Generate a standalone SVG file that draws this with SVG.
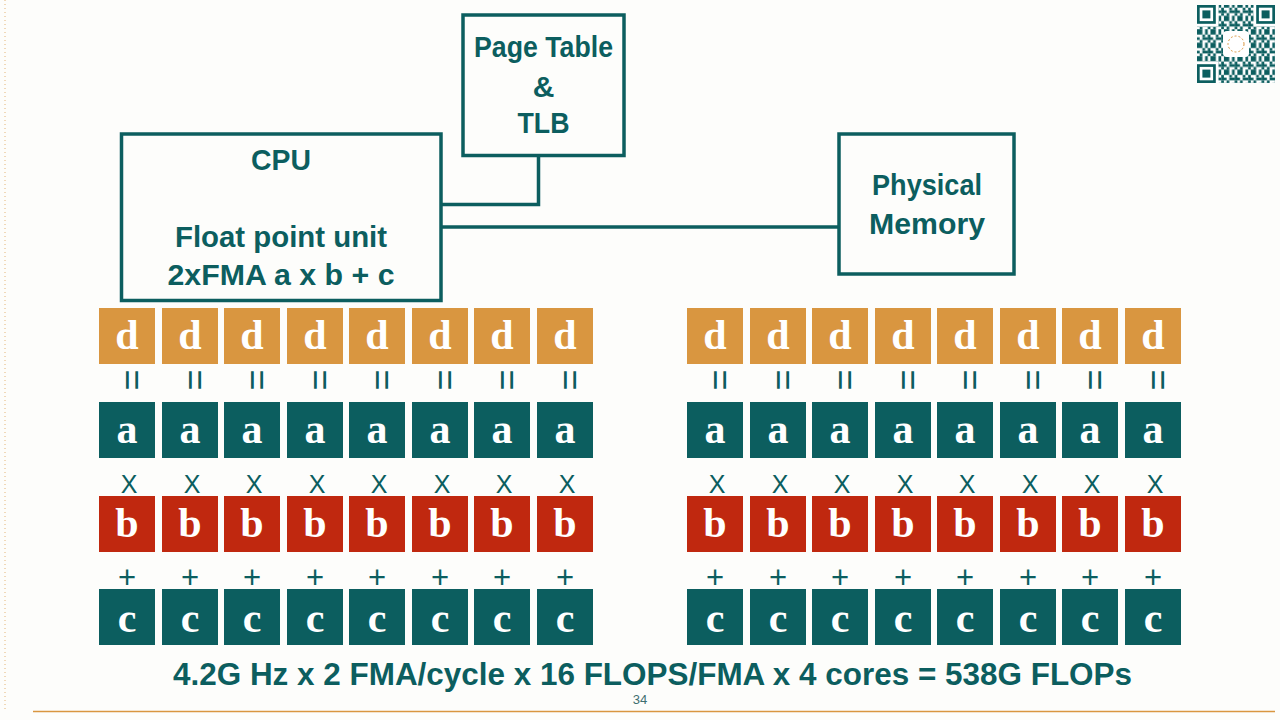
<svg xmlns="http://www.w3.org/2000/svg" width="1280" height="720" viewBox="0 0 1280 720">
<style>
.box{fill:none;stroke:#0c5e5f;stroke-width:3.5}
.lbl{font-family:"Liberation Sans",Arial,sans-serif;font-weight:bold;font-size:30px;fill:#0c5e5f;text-anchor:middle}
.conn{fill:none;stroke:#0c5e5f;stroke-width:3.5}
.cd{fill:#d99640}.ca{fill:#0c5e5f}.cb{fill:#c0280f}.cc{fill:#0c5e5f}
.t{font-family:"Liberation Serif","Times New Roman",serif;font-weight:bold;font-size:42px;fill:#ffffff;text-anchor:middle}
.eq{font-family:"Liberation Sans",Arial,sans-serif;font-size:36px;fill:#0c5e5f;text-anchor:middle}
.op{font-family:"Liberation Sans",Arial,sans-serif;font-size:25px;fill:#0c5e5f;text-anchor:middle}
.pl{font-family:"Liberation Sans",Arial,sans-serif;font-size:31px;fill:#0c5e5f;text-anchor:middle}
.q{fill:#0c5e5f}
</style>
<defs>
<pattern id="qrp" patternUnits="userSpaceOnUse" x="1197" y="5" width="13.45" height="13.45">
<rect x="0" y="0" width="5.38" height="2.69" class="q"/>
<rect x="8.07" y="0" width="2.69" height="2.69" class="q"/>
<rect x="5.38" y="2.69" width="2.69" height="2.69" class="q"/>
<rect x="10.76" y="2.69" width="2.69" height="5.38" class="q"/>
<rect x="0" y="5.38" width="2.69" height="2.69" class="q"/>
<rect x="5.38" y="5.38" width="5.38" height="2.69" class="q"/>
<rect x="2.69" y="8.07" width="2.69" height="2.69" class="q"/>
<rect x="0" y="10.76" width="5.38" height="2.69" class="q"/>
<rect x="8.07" y="10.76" width="2.69" height="2.69" class="q"/>
<rect x="10.76" y="8.07" width="2.69" height="2.69" class="q"/>
</pattern>
</defs>
<rect width="1280" height="720" fill="#fdfdfb"/>
<line x1="33" y1="711.5" x2="1275" y2="711.5" stroke="#d99640" stroke-width="1.5"/>
<line x1="5" y1="0" x2="5" y2="711" stroke="#d99640" stroke-width="1" stroke-dasharray="1 3" opacity="0.7"/>

<g id="qr">
<rect x="1197" y="5" width="78" height="78" fill="#ffffff"/>
<rect x="1197" y="5" width="78" height="78" fill="url(#qrp)"/>
<rect x="1197" y="5" width="21.5" height="21.5" fill="#ffffff"/>
<rect x="1197" y="5" width="18.8" height="18.8" class="q"/>
<rect x="1199.7" y="7.7" width="13.4" height="13.4" fill="#ffffff"/>
<rect x="1202.4" y="10.4" width="8" height="8" class="q"/>
<rect x="1253.5" y="5" width="21.5" height="21.5" fill="#ffffff"/>
<rect x="1256.2" y="5" width="18.8" height="18.8" class="q"/>
<rect x="1258.9" y="7.7" width="13.4" height="13.4" fill="#ffffff"/>
<rect x="1261.6" y="10.4" width="8" height="8" class="q"/>
<rect x="1197" y="61.5" width="21.5" height="21.5" fill="#ffffff"/>
<rect x="1197" y="64.2" width="18.8" height="18.8" class="q"/>
<rect x="1199.7" y="66.9" width="13.4" height="13.4" fill="#ffffff"/>
<rect x="1202.4" y="69.6" width="8" height="8" class="q"/>
<rect x="1223" y="31" width="26" height="26" rx="4" fill="#ffffff"/>
<circle cx="1236" cy="44" r="8" fill="none" stroke="#d99640" stroke-width="1" stroke-dasharray="2 2"/>
</g>

<g id="connectors">
<path class="conn" d="M441 204.5 H538.5 V155.5"/>
<path class="conn" d="M441 227 H839"/>
</g>

<g id="cpu">
<rect class="box" x="121.5" y="134" width="319.5" height="166.5"/>
<text class="lbl" x="281" y="170" textLength="60" lengthAdjust="spacingAndGlyphs">CPU</text>
<text class="lbl" x="281" y="247" textLength="212" lengthAdjust="spacingAndGlyphs">Float point unit</text>
<text class="lbl" x="281" y="285" textLength="227" lengthAdjust="spacingAndGlyphs">2xFMA a x b + c</text>
</g>
<g id="pagetable">
<rect class="box" x="463" y="15" width="161" height="140.5"/>
<text class="lbl" x="543.5" y="57" textLength="139" lengthAdjust="spacingAndGlyphs">Page Table</text>
<text class="lbl" x="543.5" y="97">&amp;</text>
<text class="lbl" x="543.5" y="133" textLength="52" lengthAdjust="spacingAndGlyphs">TLB</text>
</g>
<g id="physmem">
<rect class="box" x="839" y="134" width="175" height="140"/>
<text class="lbl" x="927" y="195" textLength="110" lengthAdjust="spacingAndGlyphs">Physical</text>
<text class="lbl" x="927" y="234" textLength="116" lengthAdjust="spacingAndGlyphs">Memory</text>
</g>

<g id="L1" transform="translate(99 0)">
<g id="L1d"><rect class="cd" x="0" y="308" width="56" height="56"/><text class="t" x="28" y="349">d</text></g>
<text class="eq" transform="translate(21 380) rotate(90)">=</text>
<g id="L1a"><rect class="ca" x="0" y="402" width="56" height="56"/><text class="t" x="28" y="443">a</text></g>
<text class="op" x="30" y="493">X</text>
<g id="L1b"><rect class="cb" x="0" y="496" width="56" height="56"/><text class="t" x="28" y="537">b</text></g>
<text class="pl" x="28" y="588">+</text>
<g id="L1c"><rect class="cc" x="0" y="589" width="56" height="56"/><text class="t" x="28" y="632">c</text></g>
</g>
<g id="L2" transform="translate(162 0)">
<g id="L2d"><rect class="cd" x="0" y="308" width="56" height="56"/><text class="t" x="28" y="349">d</text></g>
<text class="eq" transform="translate(21 380) rotate(90)">=</text>
<g id="L2a"><rect class="ca" x="0" y="402" width="56" height="56"/><text class="t" x="28" y="443">a</text></g>
<text class="op" x="30" y="493">X</text>
<g id="L2b"><rect class="cb" x="0" y="496" width="56" height="56"/><text class="t" x="28" y="537">b</text></g>
<text class="pl" x="28" y="588">+</text>
<g id="L2c"><rect class="cc" x="0" y="589" width="56" height="56"/><text class="t" x="28" y="632">c</text></g>
</g>
<g id="L3" transform="translate(224 0)">
<g id="L3d"><rect class="cd" x="0" y="308" width="56" height="56"/><text class="t" x="28" y="349">d</text></g>
<text class="eq" transform="translate(21 380) rotate(90)">=</text>
<g id="L3a"><rect class="ca" x="0" y="402" width="56" height="56"/><text class="t" x="28" y="443">a</text></g>
<text class="op" x="30" y="493">X</text>
<g id="L3b"><rect class="cb" x="0" y="496" width="56" height="56"/><text class="t" x="28" y="537">b</text></g>
<text class="pl" x="28" y="588">+</text>
<g id="L3c"><rect class="cc" x="0" y="589" width="56" height="56"/><text class="t" x="28" y="632">c</text></g>
</g>
<g id="L4" transform="translate(287 0)">
<g id="L4d"><rect class="cd" x="0" y="308" width="56" height="56"/><text class="t" x="28" y="349">d</text></g>
<text class="eq" transform="translate(21 380) rotate(90)">=</text>
<g id="L4a"><rect class="ca" x="0" y="402" width="56" height="56"/><text class="t" x="28" y="443">a</text></g>
<text class="op" x="30" y="493">X</text>
<g id="L4b"><rect class="cb" x="0" y="496" width="56" height="56"/><text class="t" x="28" y="537">b</text></g>
<text class="pl" x="28" y="588">+</text>
<g id="L4c"><rect class="cc" x="0" y="589" width="56" height="56"/><text class="t" x="28" y="632">c</text></g>
</g>
<g id="L5" transform="translate(349 0)">
<g id="L5d"><rect class="cd" x="0" y="308" width="56" height="56"/><text class="t" x="28" y="349">d</text></g>
<text class="eq" transform="translate(21 380) rotate(90)">=</text>
<g id="L5a"><rect class="ca" x="0" y="402" width="56" height="56"/><text class="t" x="28" y="443">a</text></g>
<text class="op" x="30" y="493">X</text>
<g id="L5b"><rect class="cb" x="0" y="496" width="56" height="56"/><text class="t" x="28" y="537">b</text></g>
<text class="pl" x="28" y="588">+</text>
<g id="L5c"><rect class="cc" x="0" y="589" width="56" height="56"/><text class="t" x="28" y="632">c</text></g>
</g>
<g id="L6" transform="translate(412 0)">
<g id="L6d"><rect class="cd" x="0" y="308" width="56" height="56"/><text class="t" x="28" y="349">d</text></g>
<text class="eq" transform="translate(21 380) rotate(90)">=</text>
<g id="L6a"><rect class="ca" x="0" y="402" width="56" height="56"/><text class="t" x="28" y="443">a</text></g>
<text class="op" x="30" y="493">X</text>
<g id="L6b"><rect class="cb" x="0" y="496" width="56" height="56"/><text class="t" x="28" y="537">b</text></g>
<text class="pl" x="28" y="588">+</text>
<g id="L6c"><rect class="cc" x="0" y="589" width="56" height="56"/><text class="t" x="28" y="632">c</text></g>
</g>
<g id="L7" transform="translate(474 0)">
<g id="L7d"><rect class="cd" x="0" y="308" width="56" height="56"/><text class="t" x="28" y="349">d</text></g>
<text class="eq" transform="translate(21 380) rotate(90)">=</text>
<g id="L7a"><rect class="ca" x="0" y="402" width="56" height="56"/><text class="t" x="28" y="443">a</text></g>
<text class="op" x="30" y="493">X</text>
<g id="L7b"><rect class="cb" x="0" y="496" width="56" height="56"/><text class="t" x="28" y="537">b</text></g>
<text class="pl" x="28" y="588">+</text>
<g id="L7c"><rect class="cc" x="0" y="589" width="56" height="56"/><text class="t" x="28" y="632">c</text></g>
</g>
<g id="L8" transform="translate(537 0)">
<g id="L8d"><rect class="cd" x="0" y="308" width="56" height="56"/><text class="t" x="28" y="349">d</text></g>
<text class="eq" transform="translate(21 380) rotate(90)">=</text>
<g id="L8a"><rect class="ca" x="0" y="402" width="56" height="56"/><text class="t" x="28" y="443">a</text></g>
<text class="op" x="30" y="493">X</text>
<g id="L8b"><rect class="cb" x="0" y="496" width="56" height="56"/><text class="t" x="28" y="537">b</text></g>
<text class="pl" x="28" y="588">+</text>
<g id="L8c"><rect class="cc" x="0" y="589" width="56" height="56"/><text class="t" x="28" y="632">c</text></g>
</g>

<g id="R1" transform="translate(687 0)">
<g id="R1d"><rect class="cd" x="0" y="308" width="56" height="56"/><text class="t" x="28" y="349">d</text></g>
<text class="eq" transform="translate(21 380) rotate(90)">=</text>
<g id="R1a"><rect class="ca" x="0" y="402" width="56" height="56"/><text class="t" x="28" y="443">a</text></g>
<text class="op" x="30" y="493">X</text>
<g id="R1b"><rect class="cb" x="0" y="496" width="56" height="56"/><text class="t" x="28" y="537">b</text></g>
<text class="pl" x="28" y="588">+</text>
<g id="R1c"><rect class="cc" x="0" y="589" width="56" height="56"/><text class="t" x="28" y="632">c</text></g>
</g>
<g id="R2" transform="translate(750 0)">
<g id="R2d"><rect class="cd" x="0" y="308" width="56" height="56"/><text class="t" x="28" y="349">d</text></g>
<text class="eq" transform="translate(21 380) rotate(90)">=</text>
<g id="R2a"><rect class="ca" x="0" y="402" width="56" height="56"/><text class="t" x="28" y="443">a</text></g>
<text class="op" x="30" y="493">X</text>
<g id="R2b"><rect class="cb" x="0" y="496" width="56" height="56"/><text class="t" x="28" y="537">b</text></g>
<text class="pl" x="28" y="588">+</text>
<g id="R2c"><rect class="cc" x="0" y="589" width="56" height="56"/><text class="t" x="28" y="632">c</text></g>
</g>
<g id="R3" transform="translate(812 0)">
<g id="R3d"><rect class="cd" x="0" y="308" width="56" height="56"/><text class="t" x="28" y="349">d</text></g>
<text class="eq" transform="translate(21 380) rotate(90)">=</text>
<g id="R3a"><rect class="ca" x="0" y="402" width="56" height="56"/><text class="t" x="28" y="443">a</text></g>
<text class="op" x="30" y="493">X</text>
<g id="R3b"><rect class="cb" x="0" y="496" width="56" height="56"/><text class="t" x="28" y="537">b</text></g>
<text class="pl" x="28" y="588">+</text>
<g id="R3c"><rect class="cc" x="0" y="589" width="56" height="56"/><text class="t" x="28" y="632">c</text></g>
</g>
<g id="R4" transform="translate(875 0)">
<g id="R4d"><rect class="cd" x="0" y="308" width="56" height="56"/><text class="t" x="28" y="349">d</text></g>
<text class="eq" transform="translate(21 380) rotate(90)">=</text>
<g id="R4a"><rect class="ca" x="0" y="402" width="56" height="56"/><text class="t" x="28" y="443">a</text></g>
<text class="op" x="30" y="493">X</text>
<g id="R4b"><rect class="cb" x="0" y="496" width="56" height="56"/><text class="t" x="28" y="537">b</text></g>
<text class="pl" x="28" y="588">+</text>
<g id="R4c"><rect class="cc" x="0" y="589" width="56" height="56"/><text class="t" x="28" y="632">c</text></g>
</g>
<g id="R5" transform="translate(937 0)">
<g id="R5d"><rect class="cd" x="0" y="308" width="56" height="56"/><text class="t" x="28" y="349">d</text></g>
<text class="eq" transform="translate(21 380) rotate(90)">=</text>
<g id="R5a"><rect class="ca" x="0" y="402" width="56" height="56"/><text class="t" x="28" y="443">a</text></g>
<text class="op" x="30" y="493">X</text>
<g id="R5b"><rect class="cb" x="0" y="496" width="56" height="56"/><text class="t" x="28" y="537">b</text></g>
<text class="pl" x="28" y="588">+</text>
<g id="R5c"><rect class="cc" x="0" y="589" width="56" height="56"/><text class="t" x="28" y="632">c</text></g>
</g>
<g id="R6" transform="translate(1000 0)">
<g id="R6d"><rect class="cd" x="0" y="308" width="56" height="56"/><text class="t" x="28" y="349">d</text></g>
<text class="eq" transform="translate(21 380) rotate(90)">=</text>
<g id="R6a"><rect class="ca" x="0" y="402" width="56" height="56"/><text class="t" x="28" y="443">a</text></g>
<text class="op" x="30" y="493">X</text>
<g id="R6b"><rect class="cb" x="0" y="496" width="56" height="56"/><text class="t" x="28" y="537">b</text></g>
<text class="pl" x="28" y="588">+</text>
<g id="R6c"><rect class="cc" x="0" y="589" width="56" height="56"/><text class="t" x="28" y="632">c</text></g>
</g>
<g id="R7" transform="translate(1062 0)">
<g id="R7d"><rect class="cd" x="0" y="308" width="56" height="56"/><text class="t" x="28" y="349">d</text></g>
<text class="eq" transform="translate(21 380) rotate(90)">=</text>
<g id="R7a"><rect class="ca" x="0" y="402" width="56" height="56"/><text class="t" x="28" y="443">a</text></g>
<text class="op" x="30" y="493">X</text>
<g id="R7b"><rect class="cb" x="0" y="496" width="56" height="56"/><text class="t" x="28" y="537">b</text></g>
<text class="pl" x="28" y="588">+</text>
<g id="R7c"><rect class="cc" x="0" y="589" width="56" height="56"/><text class="t" x="28" y="632">c</text></g>
</g>
<g id="R8" transform="translate(1125 0)">
<g id="R8d"><rect class="cd" x="0" y="308" width="56" height="56"/><text class="t" x="28" y="349">d</text></g>
<text class="eq" transform="translate(21 380) rotate(90)">=</text>
<g id="R8a"><rect class="ca" x="0" y="402" width="56" height="56"/><text class="t" x="28" y="443">a</text></g>
<text class="op" x="30" y="493">X</text>
<g id="R8b"><rect class="cb" x="0" y="496" width="56" height="56"/><text class="t" x="28" y="537">b</text></g>
<text class="pl" x="28" y="588">+</text>
<g id="R8c"><rect class="cc" x="0" y="589" width="56" height="56"/><text class="t" x="28" y="632">c</text></g>
</g>

<text class="lbl" x="652.5" y="685" style="font-size:32px" textLength="959" lengthAdjust="spacingAndGlyphs">4.2G Hz x 2 FMA/cycle x 16 FLOPS/FMA x 4 cores = 538G FLOPs</text>
<text x="640" y="704" style="font-family:'Liberation Sans',Arial,sans-serif;font-size:13px;fill:#3f6f70;text-anchor:middle">34</text>
</svg>
